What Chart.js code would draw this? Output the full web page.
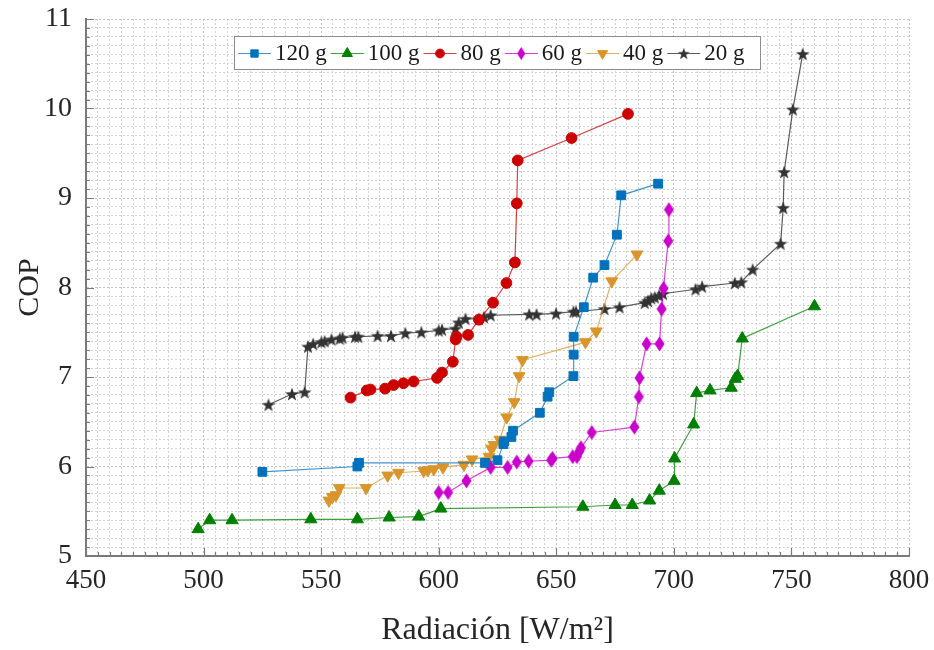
<!DOCTYPE html>
<html>
<head>
<meta charset="utf-8">
<script src="https://cdn.jsdelivr.net/npm/chart.js@4.4.1/dist/chart.umd.min.js"></script>
<style>
  html, body { margin: 0; padding: 0; background: #fff; }
  #wrap { width: 934px; height: 650px; }
</style>
</head>
<body>
<div id="wrap"><canvas id="copChart" width="934" height="650"></canvas></div>
<script>
// Datos: radiación [W/m2] y COP por masa
const rad120 = [525, 565.4, 566.1, 619.7, 625, 627.5, 627.8, 630.9, 631.6, 643, 646.3, 647, 657.3, 657.4, 657.4, 661.7, 665.7, 670.5, 675.8, 677.6, 693.3];
const cop120 = [5.94, 6.00, 6.04, 6.04, 6.07, 6.25, 6.28, 6.33, 6.40, 6.60, 6.78, 6.83, 7.01, 7.25, 7.45, 7.78, 8.11, 8.25, 8.59, 9.03, 9.16];

const rad100 = [497.7, 502.6, 512.1, 545.6, 565.4, 578.9, 591.5, 600.9, 661.3, 675, 682.3, 689.7, 693.8, 700.1, 700.3, 708.4, 709.7, 715.4, 724.4, 726.1, 727.1, 729.1, 759.8];
const cop100 = [5.30, 5.40, 5.40, 5.41, 5.41, 5.43, 5.44, 5.53, 5.55, 5.57, 5.57, 5.62, 5.73, 5.84, 6.09, 6.47, 6.82, 6.85, 6.88, 6.98, 7.01, 7.43, 7.79];

const rad80 = [562.5, 569.4, 571, 577.2, 580.8, 585, 589.3, 599.3, 601.4, 606, 607.2, 607.6, 612.5, 617.1, 623.1, 628.8, 632.4, 633.2, 633.6, 656.5, 680.5];
const cop80 = [6.77, 6.85, 6.86, 6.87, 6.91, 6.93, 6.95, 6.99, 7.05, 7.17, 7.42, 7.45, 7.47, 7.64, 7.83, 8.05, 8.28, 8.94, 9.42, 9.67, 9.94];

const rad60 = [600, 604, 611.8, 622.1, 629.3, 633.2, 638.2, 647.8, 648.4, 657, 658.8, 659.8, 660.5, 665.1, 683.2, 685.1, 685.4, 688.4, 693.9, 694.8, 695.6, 697.6, 697.9];
const cop60 = [5.71, 5.71, 5.84, 5.99, 5.99, 6.05, 6.06, 6.07, 6.09, 6.11, 6.11, 6.17, 6.21, 6.38, 6.44, 6.78, 6.99, 7.37, 7.37, 7.76, 7.99, 8.52, 8.87];

const rad40 = [553.3, 554.8, 556.3, 557.7, 569.1, 578.3, 582.9, 593.6, 595.4, 597.9, 601.8, 610.7, 614.2, 621.4, 622.4, 623.5, 626, 628.9, 632.1, 634.2, 635.6, 662.4, 667, 673.6, 684.3];
const cop40 = [5.62, 5.66, 5.68, 5.76, 5.76, 5.90, 5.93, 5.95, 5.96, 5.97, 5.99, 6.02, 6.08, 6.11, 6.20, 6.24, 6.30, 6.55, 6.72, 7.01, 7.19, 7.39, 7.51, 8.07, 8.37];

const rad20 = [527.6, 537.6, 543, 544.4, 546.6, 550.1, 551.5, 554.4, 557.9, 559.1, 564.4, 565.8, 574, 579.7, 585.8, 592.6, 600, 601.4, 607.1, 608.5, 611.4, 617.1, 619.2, 622.1, 638.5, 641.6, 649.9, 657.3, 658.4, 670.5, 676.9, 687.6, 689, 690.4, 691.9, 693.7, 695.4, 709.2, 712, 725.9, 728.7, 733.5, 745.4, 746.5, 746.9, 750.6, 754.8];
const cop20 = [6.69, 6.81, 6.83, 7.34, 7.37, 7.39, 7.40, 7.42, 7.43, 7.44, 7.45, 7.45, 7.46, 7.46, 7.49, 7.50, 7.52, 7.53, 7.54, 7.61, 7.65, 7.65, 7.67, 7.69, 7.70, 7.70, 7.71, 7.73, 7.73, 7.76, 7.78, 7.83, 7.85, 7.88, 7.89, 7.91, 7.93, 7.98, 8.01, 8.05, 8.06, 8.20, 8.49, 8.89, 9.29, 9.99, 10.61];

const etiquetas = ['120 g', '100 g', '80 g', '60 g', '40 g', '20 g'];

function pares(xs, ys) {
    return xs.map((x, i) => ({ x: x, y: ys[i] }));
}

// Marcadores que Chart.js no trae: estrella rellena y rombo alto
function makeStar(color) {
    const c = document.createElement('canvas');
    c.width = 16; c.height = 16;
    const g = c.getContext('2d');
    g.fillStyle = color;
    g.beginPath();
    for (let i = 0; i < 10; i++) {
        const r = i % 2 ? 2.9 : 7.2;
        const a = -Math.PI / 2 + i * Math.PI / 5;
        g.lineTo(8 + r * Math.cos(a), 8.6 + r * Math.sin(a));
    }
    g.closePath();
    g.fill();
    return c;
}

function makeDiamond(color) {
    const c = document.createElement('canvas');
    c.width = 11; c.height = 16;
    const g = c.getContext('2d');
    g.fillStyle = color;
    g.beginPath();
    g.moveTo(5.5, 0.5); g.lineTo(10.5, 8); g.lineTo(5.5, 15.5); g.lineTo(0.5, 8);
    g.closePath();
    g.fill();
    return c;
}

function serie(label, xs, ys, color, line, style, radius, rotation) {
    return {
        label: label,
        data: pares(xs, ys),
        showLine: true,
        borderColor: line,
        borderWidth: 1.2,
        backgroundColor: color,
        pointBorderColor: color,
        pointBackgroundColor: color,
        pointBorderWidth: 1,
        pointStyle: style,
        pointRadius: radius,
        pointRotation: rotation || 0,
        pointHoverRadius: radius,
        tension: 0
    };
}

const datasets = [
    serie(etiquetas[0], rad120, cop120, '#0072BD', 'rgba(0,114,189,0.75)', 'rect', 6.2),
    serie(etiquetas[1], rad100, cop100, '#008000', 'rgba(0,128,0,0.75)', 'triangle', 7),
    serie(etiquetas[2], rad80, cop80, '#CC0000', 'rgba(204,0,0,0.75)', 'circle', 5.4),
    serie(etiquetas[3], rad60, cop60, '#CC00CC', 'rgba(204,0,204,0.75)', makeDiamond('#CC00CC'), 6),
    serie(etiquetas[4], rad40, cop40, '#D9952B', 'rgba(217,149,43,0.75)', 'triangle', 6.8, 180),
    serie(etiquetas[5], rad20, cop20, '#333333', 'rgba(51,51,51,0.8)', makeStar('#333333'), 7)
];

function esEntero(v, paso) {
    return Math.abs(v / paso - Math.round(v / paso)) < 1e-6;
}

// Marcas de graduación hacia dentro, como en MATLAB
const inwardTicks = {
    id: 'inwardTicks',
    beforeDatasetsDraw(chart) {
        const ctx = chart.ctx;
        const xs = chart.scales.x, ys = chart.scales.y;
        ctx.save();
        ctx.strokeStyle = '#7a7a7a';
        ctx.lineWidth = 1.2;
        ctx.beginPath();
        xs.ticks.forEach(t => {
            const px = Math.round(xs.getPixelForValue(t.value)) + 0.5;
            const len = esEntero(t.value, 50) ? 8 : 4;
            ctx.moveTo(px, ys.bottom);
            ctx.lineTo(px, ys.bottom - len);
        });
        ys.ticks.forEach(t => {
            const py = Math.round(ys.getPixelForValue(t.value)) + 0.5;
            const len = esEntero(t.value, 1) ? 8 : 4;
            ctx.moveTo(xs.left, py);
            ctx.lineTo(xs.left + len, py);
        });
        ctx.stroke();
        ctx.restore();
    }
};

// Leyenda horizontal dentro del área del gráfico
const innerLegend = {
    id: 'innerLegend',
    afterDraw(chart) {
        const ctx = chart.ctx;
        const boxX = 234, boxY = 36, boxW = 526, boxH = 33;
        ctx.save();
        ctx.fillStyle = '#ffffff';
        ctx.fillRect(boxX, boxY, boxW, boxH);
        ctx.strokeStyle = '#8c8c8c';
        ctx.lineWidth = 1;
        ctx.strokeRect(boxX + 0.5, boxY + 0.5, boxW, boxH);
        ctx.font = '23px "Liberation Serif", "Times New Roman", serif';
        ctx.textBaseline = 'middle';
        const cy = boxY + boxH / 2 + 1;
        let x = boxX + 4;
        chart.data.datasets.forEach(ds => {
            ctx.strokeStyle = ds.borderColor;
            ctx.lineWidth = 1.2;
            ctx.beginPath();
            ctx.moveTo(x, cy);
            ctx.lineTo(x + 33, cy);
            ctx.stroke();
            const mx = x + 16.5;
            if (ds.pointStyle instanceof HTMLCanvasElement) {
                const s = ds.pointStyle;
                ctx.drawImage(s, mx - s.width / 2 + 1, cy - s.height / 2 + 1, s.width - 2, s.height - 2);
            } else if (Chart.helpers && Chart.helpers.drawPoint) {
                ctx.fillStyle = ds.pointBackgroundColor;
                ctx.strokeStyle = ds.pointBorderColor;
                ctx.lineWidth = 1;
                Chart.helpers.drawPoint(ctx, {
                    pointStyle: ds.pointStyle,
                    radius: ds.pointRadius - 1,
                    rotation: ds.pointRotation,
                    borderWidth: 1
                }, mx, cy);
            }
            ctx.fillStyle = '#1a1a1a';
            ctx.fillText(ds.label, x + 37, cy);
            x += 37 + ctx.measureText(ds.label).width + 4;
        });
        ctx.restore();
    }
};

const fuente = '"Liberation Serif", "Times New Roman", serif';
Chart.defaults.font.family = fuente;
Chart.defaults.color = '#262626';

new Chart(document.getElementById('copChart').getContext('2d'), {
    type: 'scatter',
    data: { datasets: datasets },
    options: {
        responsive: false,
        animation: false,
        layout: { padding: { top: 19, right: 25, left: 0, bottom: 0 } },
        plugins: {
            legend: { display: false },
            tooltip: { enabled: false }
        },
        scales: {
            x: {
                type: 'linear',
                min: 450,
                max: 800,
                afterFit: s => { s.height = 94; s.paddingLeft = 0; s.paddingRight = 0; },
                ticks: {
                    stepSize: 5,
                    autoSkip: false,
                    maxRotation: 0,
                    padding: 9,
                    font: { size: 27 },
                    color: '#262626',
                    callback: v => esEntero(v, 50) ? String(v) : ''
                },
                grid: {
                    drawTicks: false,
                    color: c => esEntero(c.tick.value, 50) ? '#c0c0c0' : '#d2d2d2',
                    lineWidth: 1
                },
                border: { display: true, color: '#7a7a7a', width: 2, dash: [2, 2] },
                title: {
                    display: true,
                    text: 'Radiación [W/m²]',
                    font: { size: 32 },
                    color: '#262626',
                    padding: { top: 0, bottom: 0 }
                }
            },
            y: {
                type: 'linear',
                min: 5,
                max: 11,
                afterFit: s => { s.width = 86; s.paddingTop = 0; s.paddingBottom = 0; },
                ticks: {
                    stepSize: 0.1,
                    autoSkip: false,
                    padding: 14,
                    font: { size: 28 },
                    color: '#262626',
                    callback: v => esEntero(v, 1) ? String(Math.round(v)) : ''
                },
                grid: {
                    drawTicks: false,
                    color: c => esEntero(c.tick.value, 1) ? '#c0c0c0' : '#d2d2d2',
                    lineWidth: 1
                },
                border: { display: true, color: '#7a7a7a', width: 2, dash: [2, 2] },
                title: {
                    display: true,
                    text: 'COP',
                    font: { size: 30 },
                    color: '#262626',
                    padding: { top: 12, bottom: 0 }
                }
            }
        }
    },
    plugins: [inwardTicks, innerLegend]
});
</script>
</body>
</html>
